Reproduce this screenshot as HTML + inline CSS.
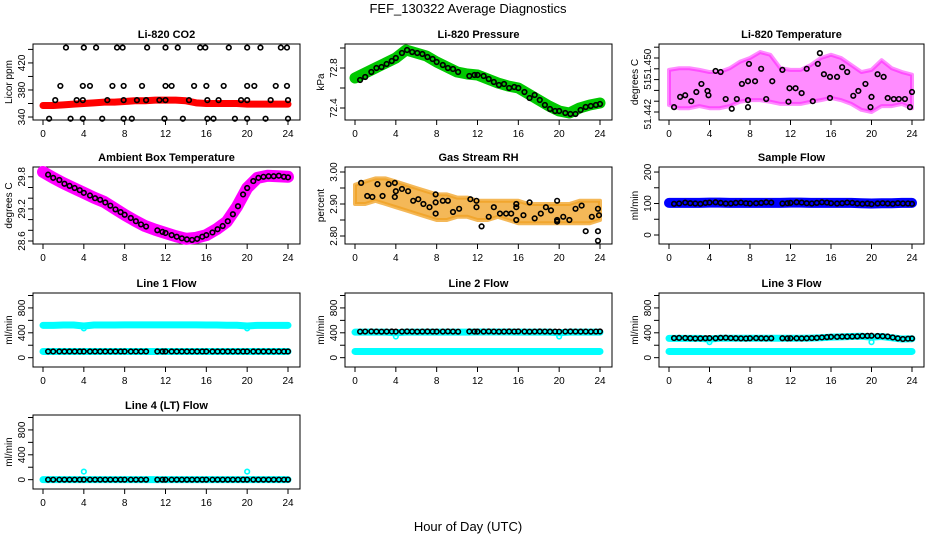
<!DOCTYPE html>
<html><head><meta charset="utf-8">
<style>
html,body{margin:0;padding:0;background:#fff;}
svg{display:block;font-family:"Liberation Sans",Arial,sans-serif;}
</style></head>
<body>
<svg id="chart" width="936" height="540" viewBox="0 0 936 540" xmlns="http://www.w3.org/2000/svg">
<text x="468" y="13" text-anchor="middle" font-size="13">FEF_130322  Average Diagnostics</text>
<text x="468" y="531" text-anchor="middle" font-size="13">Hour of Day (UTC)</text>
</svg>
<script>
// ---- shared data ----
const hours24 = [0,1,2,3,4,5,6,7,8,9,10,11,12,13,14,15,16,17,18,19,20,21,22,23,24];
const xTicks = [0,4,8,12,16,20,24];
const circHrs = [0.5,1.0,1.6,2.1,2.6,3.1,3.6,4.0,4.6,5.1,5.6,6.1,6.6,7.1,7.6,8.0,8.6,9.1,9.6,10.1,11.2,11.7,12.0,12.6,13.1,13.6,14.1,14.6,15.1,15.6,16.0,16.6,17.1,17.6,18.1,18.6,19.1,19.6,20.0,20.6,21.1,21.6,22.1,22.6,23.1,23.6,24.0];

// CO2
const co2Band = [357,357,358,359,360,361,362,362,363,364,364,365,365,365,364,361,360,360,360,360,359,359,359,359,359];
const co2Hrs = [2.25,4.0,5.2,7.25,7.8,10.2,12.0,13.2,15.4,15.9,18.2,20.0,21.3,23.3,23.9, 1.7,3.9,4.6,6.8,7.9,9.7,12.0,12.6,14.8,16.0,17.7,20.0,20.7,22.8,23.9, 1.2,3.3,3.9,6.3,7.9,9.2,10.1,11.4,12.0,14.3,16.1,17.2,19.4,20.0,22.3,24.0, 0.6,2.7,3.9,5.8,7.9,8.7,11.9,13.7,16.1,16.7,18.8,20.0,21.8,24.0];
const co2Vals = [442.7,442.7,442.7,442.7,442.7,442.7,442.7,442.7,442.7,442.7,442.7,442.7,442.7,442.7,442.7, 386,386,386,386,386,386,386,386,386,386,386,386,386,386,386, 365,365,365,365,365,365,365,365,365,365,365,365,365,365,365,365, 337.5,337.5,337.5,337.5,337.5,337.5,337.5,337.5,337.5,337.5,337.5,337.5,337.5,337.5];
const co2Ticks = [340,360,380,400,420,440];
const co2Labels = ["340","","380","","420",""];

// Pressure
const presBand = [72.70,72.75,72.80,72.85,72.90,72.98,72.95,72.92,72.86,72.81,72.76,72.74,72.73,72.69,72.65,72.62,72.60,72.54,72.48,72.42,72.37,72.35,72.40,72.43,72.45];
const presVals = [72.68,72.71,72.76,72.80,72.81,72.84,72.87,72.90,72.95,72.98,72.96,72.95,72.94,72.91,72.89,72.86,72.83,72.80,72.79,72.76,72.72,72.73,72.73,72.72,72.69,72.66,72.63,72.64,72.60,72.61,72.60,72.56,72.50,72.53,72.48,72.43,72.39,72.37,72.37,72.35,72.34,72.34,72.38,72.41,72.42,72.43,72.44];
const presTicks = [72.4,72.6,72.8,73.0];
const presLabels = ["72.4","","72.8",""];

// Li-820 temperature
const tempUpper = [51.4498,51.4501,51.4501,51.4498,51.4494,51.4494,51.4501,51.4513,51.4520,51.4531,51.4526,51.4501,51.4498,51.4498,51.4507,51.4520,51.4526,51.4520,51.4507,51.4494,51.4498,51.4516,51.4501,51.4494,51.4489];
const tempLower = [51.4433,51.4427,51.4427,51.4431,51.4427,51.4427,51.4431,51.4439,51.4442,51.4442,51.4439,51.4435,51.4435,51.4435,51.4439,51.4442,51.4446,51.4442,51.4435,51.4424,51.4420,51.4431,51.4431,51.4435,51.4427];
const tempHrs = [0.5,1.1,1.6,2.2,2.7,3.2,3.8,3.9,4.6,5.1,5.6,6.2,6.7,7.2,7.8,7.8,7.9,7.8,8.5,9.1,9.6,10.2,11.2,11.8,11.9,12.5,13.1,13.6,14.2,14.7,15.3,15.9,15.9,14.9,16.6,17.1,17.6,18.2,18.7,19.4,19.9,20.0,20.6,21.2,21.6,22.2,22.7,23.3,23.8,24.0];
const tempVals = [51.4429,51.4448,51.4451,51.4440,51.4457,51.4472,51.4459,51.4451,51.4496,51.4494,51.4444,51.4426,51.4444,51.4472,51.4442,51.4477,51.4509,51.4429,51.4477,51.4500,51.4444,51.4477,51.4498,51.4439,51.4464,51.4464,51.4455,51.4500,51.4440,51.4509,51.4490,51.4485,51.4446,51.4529,51.4485,51.4503,51.4494,51.4450,51.4459,51.4472,51.4429,51.4448,51.4490,51.4485,51.4446,51.4444,51.4444,51.4444,51.4429,51.4457];
const tempTicks = [51.442,51.444,51.446,51.448,51.450,51.452,51.454];
const tempLabelVals = [51.4416,51.4474,51.4509];
const tempLabels = ["51.442","51.","51.450"];

// Ambient box temperature
const ambBand = [29.89,29.78,29.68,29.59,29.50,29.41,29.33,29.21,29.09,28.98,28.88,28.81,28.75,28.69,28.64,28.66,28.71,28.82,28.96,29.24,29.59,29.78,29.82,29.81,29.80];
const ambVals = [29.84,29.78,29.74,29.67,29.63,29.59,29.55,29.50,29.45,29.40,29.37,29.32,29.26,29.19,29.14,29.09,29.03,28.97,28.91,28.87,28.80,28.77,28.75,28.71,28.68,28.65,28.63,28.62,28.64,28.68,28.71,28.76,28.82,28.88,28.97,29.10,29.25,29.47,29.59,29.72,29.78,29.80,29.81,29.81,29.82,29.80,29.79];
const ambTicks = [28.6,28.8,29.0,29.2,29.4,29.6,29.8];
const ambLabels = ["28.6","","","29.2","","","29.8"];

// Gas stream RH
const rhUpper = [2.96,2.97,2.98,2.98,2.97,2.96,2.95,2.94,2.93,2.93,2.92,2.92,2.91,2.91,2.91,2.91,2.91,2.90,2.90,2.90,2.90,2.90,2.91,2.91,2.91];
const rhLower = [2.90,2.90,2.91,2.90,2.89,2.88,2.87,2.86,2.85,2.85,2.86,2.86,2.85,2.85,2.86,2.85,2.84,2.84,2.84,2.84,2.84,2.84,2.84,2.84,2.85];
const rhHrs = [0.6,1.2,1.7,2.2,2.7,3.3,3.9,3.9,4.0,4.6,5.2,5.7,6.2,6.7,7.3,7.9,7.9,7.9,8.6,9.1,9.6,10.2,11.3,11.9,11.9,12.4,13.1,13.6,14.2,14.8,15.3,15.8,15.8,15.8,16.5,17.1,17.6,18.2,18.7,19.2,19.8,19.8,19.8,20.4,21.0,21.6,22.2,22.6,23.2,23.8,23.8,23.9,23.8];
const rhVals = [2.966,2.925,2.922,2.962,2.925,2.962,2.966,2.922,2.94,2.947,2.94,2.91,2.915,2.90,2.89,2.87,2.905,2.93,2.91,2.91,2.875,2.885,2.915,2.91,2.89,2.83,2.86,2.89,2.87,2.87,2.87,2.89,2.90,2.85,2.865,2.905,2.855,2.87,2.89,2.88,2.91,2.85,2.845,2.86,2.85,2.885,2.895,2.815,2.86,2.815,2.885,2.865,2.785];
const rhTicks = [2.80,2.85,2.90,2.95,3.00];
const rhLabels = ["2.80","","2.90","","3.00"];

// Sample flow
const sampBand = [102,102,102,102,103,103,102,102,102,102,102,102,103,103,102,102,102,102,102,101,100,101,101,102,102];
const sampVals = [99,100,103,101,100,99,102,103,104,102,100,100,102,103,101,100,101,102,104,103,100,101,102,104,103,101,100,102,104,103,101,100,101,103,102,100,99,100,98,100,101,100,99,101,100,100,99];
const sampTicks = [0,50,100,150,200];
const sampLabels = ["0","","100","","200"];

// Line flows
const flowTicks = [0,200,400,600,800,1000];
const flowLabels = ["0","","400","","800",""];
const l1Upper = [520,520,525,525,510,525,525,525,528,528,528,528,528,528,528,528,525,525,522,522,510,520,520,520,520];
const l1Lower = [100,100,100,100,100,100,100,100,100,100,100,100,100,100,100,100,100,100,100,100,100,100,100,100,100];
const l1OutHrs = [4,20];
const l1OutVals = [470,470];
const l1Vals = [100,100,100,100,100,100,100,100,100,100,100,100,100,100,100,100,100,100,100,100,100,100,100,100,100,100,100,100,100,100,100,100,100,100,100,100,100,100,100,100,100,100,100,100,100,100,100];
const l2Upper = [410,410,410,410,400,410,410,410,410,410,410,410,412,412,412,412,410,410,410,410,400,410,410,410,410];
const l2Lower = [100,100,100,100,100,100,100,100,100,100,100,100,100,100,100,100,100,100,100,100,100,100,100,100,100];
const l2OutHrs = [4,20];
const l2OutVals = [340,340];
const l2Vals = [418,420,422,420,418,420,421,419,420,422,420,418,420,421,420,419,420,422,420,418,421,420,419,420,422,420,418,420,421,420,422,420,418,420,421,420,419,420,418,420,421,420,419,420,418,420,421];
const l3Upper = [310,310,310,310,300,312,312,312,312,312,312,312,312,312,315,320,330,335,340,345,330,340,320,300,305];
const l3Lower = [100,100,100,100,100,100,100,100,100,100,100,100,100,100,100,100,100,100,100,100,100,100,100,100,100];
const l3OutHrs = [4,20];
const l3OutVals = [250,250];
const l3Vals = [315,318,316,312,308,310,312,315,312,318,320,315,312,310,308,312,314,312,310,312,312,310,312,312,310,312,315,318,325,330,335,335,338,338,340,342,348,350,352,348,345,340,325,310,300,305,308];
const l4Band = [0,0,0,0,0,0,0,0,0,0,0,0,0,0,0,0,0,0,0,0,0,0,0,0,0];
const l4OutHrs = [4,20];
const l4OutVals = [130,130];
const l4Vals = [0,0,0,0,0,0,0,0,0,0,0,0,0,0,0,0,0,0,0,0,0,0,0,0,0,0,0,0,0,0,0,0,0,0,0,0,0,0,0,0,0,0,0,0,0,0,0];

// ---- drawing ----
const NS = "http://www.w3.org/2000/svg";
const svg = document.getElementById('chart');
const colLeft = [33,345,659], colRight = [300,612,924];
const rowTop = [44,167,293,415], rowBot = [120,244,367,489];

function mk(tag, attrs, parent){
  const e = document.createElementNS(NS, tag);
  for (const k in attrs) e.setAttribute(k, attrs[k]);
  (parent||svg).appendChild(e);
  return e;
}

function panel(r, c, title, ylab, dom, ticks, labels, labelVals, name){
  const g = mk('g', {});
  
  
  const L = colLeft[c], R = colRight[c], T = rowTop[r], B = rowBot[r];
  const x0 = L + 10, x1 = R - 12;
  const xs = h => x0 + h * (x1 - x0) / 24;
  const ys = v => B - (v - dom[0]) * (B - T) / (dom[1] - dom[0]);
  const t = mk('text', {x:(L+R)/2, y:T-6, 'text-anchor':'middle', 'font-size':11, 'font-weight':'bold'}, g);
  t.textContent = title;
  
  
  const yl = mk('text', {x:0, y:0, 'text-anchor':'middle', 'font-size':10, transform:`translate(${L-21},${(T+B)/2}) rotate(-90)`}, g);
  yl.textContent = ylab;
  
  
  const box = mk('rect', {x:L, y:T, width:R-L, height:B-T, fill:'none', stroke:'#000', 'stroke-width':1}, g);
  
  
  xTicks.forEach(h => {
    mk('line', {x1:xs(h), x2:xs(h), y1:B, y2:B+5, stroke:'#000'}, g);
    const tl = mk('text', {x:xs(h), y:B+17, 'text-anchor':'middle', 'font-size':10}, g);
    tl.textContent = h;
    
    
  });
  ticks.forEach((v,i) => {
    mk('line', {x1:L-5, x2:L, y1:ys(v), y2:ys(v), stroke:'#000'}, g);
  });
  const lv = labelVals || ticks;
  lv.forEach((v,i) => {
    if (!labels[i]) return;
    const tl = mk('text', {x:0, y:0, 'text-anchor':'middle', 'font-size':10, transform:`translate(${L-8},${ys(v)}) rotate(-90)`}, g);
    tl.textContent = labels[i];
    
    
  });
  return {g, xs, ys};
}

function band(p, hrs, vals, color, w, name){
  const pl = mk('polyline', {points: hrs.map((h,i)=>p.xs(h)+','+p.ys(vals[i])).join(' '), fill:'none', stroke:color, 'stroke-width':w, 'stroke-linejoin':'round', 'stroke-linecap':'round'}, p.g);
  
  
}
function cloud(p, hrs, up, lo, color, op, name){
  const pts = hrs.map((h,i)=>p.xs(h)+','+p.ys(up[i])).concat(hrs.slice().reverse().map((h,j)=>p.xs(h)+','+p.ys(lo[hrs.length-1-j])));
  const pg = mk('polygon', {points: pts.join(' '), fill:color, 'fill-opacity':op, stroke:color, 'stroke-width':4, 'stroke-opacity':op, 'stroke-linejoin':'round'}, p.g);
  
  
}
function pts(p, hrs, vals, color, name, r){
  hrs.forEach((h,i) => {
    const c = mk('circle', {cx:p.xs(h), cy:p.ys(vals[i]), r:r||2.3, fill:'none', stroke:color, 'stroke-width':1.6}, p.g);
    
    
  });
}

let p = panel(0,0,'Li-820 CO2','Licor ppm',[335.6,448],co2Ticks,co2Labels,null,'co2');
band(p, hours24, co2Band, '#ff0000', 7, 'co2-band');
pts(p, co2Hrs, co2Vals, '#000', 'co2-point');

p = panel(0,1,'Li-820 Pressure','kPa',[72.28,73.04],presTicks,presLabels,null,'pressure');
band(p, hours24, presBand, '#00c800', 11, 'pressure-band');
pts(p, circHrs, presVals, '#000', 'pressure-point');

p = panel(0,2,'Li-820 Temperature','degrees C',[51.44052,51.45459],tempTicks,tempLabels,tempLabelVals,'li820-temp');
cloud(p, hours24, tempUpper, tempLower, '#ff00ff', 0.45, 'temp-cloud');
pts(p, tempHrs, tempVals, '#000', 'temp-point');

p = panel(1,0,'Ambient Box Temperature','degrees C',[28.544,29.983],ambTicks,ambLabels,null,'ambient');
band(p, hours24, ambBand, '#ff00ff', 12, 'ambient-band');
pts(p, circHrs, ambVals, '#000', 'ambient-point');

p = panel(1,1,'Gas Stream RH','percent',[2.775,3.0156],rhTicks,rhLabels,null,'rh');
cloud(p, hours24, rhUpper, rhLower, '#f0a020', 0.75, 'rh-cloud');
pts(p, rhHrs, rhVals, '#000', 'rh-point');

p = panel(1,2,'Sample Flow','ml/min',[-28.6,216],sampTicks,sampLabels,null,'sample-flow');
band(p, hours24, sampBand, '#0000ff', 10, 'sample-band');
pts(p, circHrs, sampVals, '#000', 'sample-point');

p = panel(2,0,'Line 1 Flow','ml/min',[-150,1040],flowTicks,flowLabels,null,'line1');
band(p, hours24, l1Upper, '#00ffff', 7, 'line1-upper-band');
band(p, hours24, l1Lower, '#00ffff', 7, 'line1-lower-band');
pts(p, l1OutHrs, l1OutVals, '#00ffff', 'line1-outlier');
pts(p, circHrs, l1Vals, '#000', 'line1-point');

p = panel(2,1,'Line 2 Flow','ml/min',[-150,1040],flowTicks,flowLabels,null,'line2');
band(p, hours24, l2Upper, '#00ffff', 7, 'line2-upper-band');
band(p, hours24, l2Lower, '#00ffff', 7, 'line2-lower-band');
pts(p, l2OutHrs, l2OutVals, '#00ffff', 'line2-outlier');
pts(p, circHrs, l2Vals, '#000', 'line2-point');

p = panel(2,2,'Line 3 Flow','ml/min',[-150,1040],flowTicks,flowLabels,null,'line3');
band(p, hours24, l3Upper, '#00ffff', 7, 'line3-upper-band');
band(p, hours24, l3Lower, '#00ffff', 7, 'line3-lower-band');
pts(p, l3OutHrs, l3OutVals, '#00ffff', 'line3-outlier');
pts(p, circHrs, l3Vals, '#000', 'line3-point');

p = panel(3,0,'Line 4 (LT) Flow','ml/min',[-150,1040],flowTicks,flowLabels,null,'line4');
band(p, hours24, l4Band, '#00ffff', 7, 'line4-band');
pts(p, l4OutHrs, l4OutVals, '#00ffff', 'line4-outlier');
pts(p, circHrs, l4Vals, '#000', 'line4-point');
</script>
</body></html>
